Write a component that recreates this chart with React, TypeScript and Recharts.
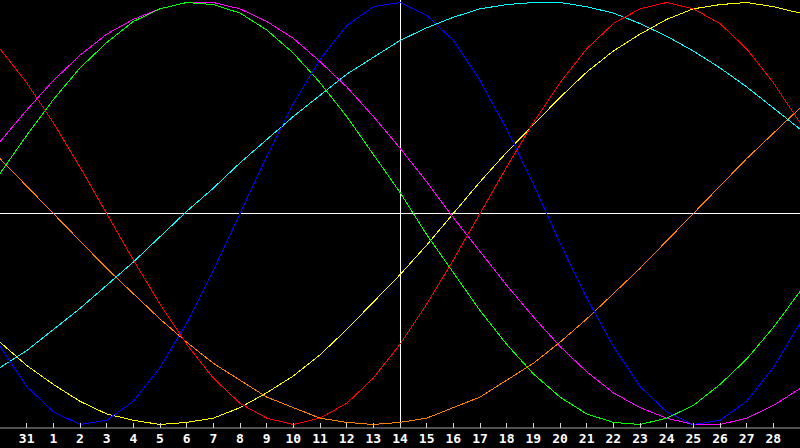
import React from "react";
import { LineChart, Line, XAxis, YAxis, ReferenceLine } from "recharts";

// Day labels for the 31 chart positions (index 0..30)
const dayLabels: string[] = [
  "30", "31", "1", "2", "3", "4", "5", "6", "7", "8", "9", "10", "11", "12", "13",
  "14", "15", "16", "17", "18", "19", "20", "21", "22", "23", "24", "25", "26", "27", "28", "29",
];

const tickIndexes: number[] = [
  1, 2, 3, 4, 5, 6, 7, 8, 9, 10, 11, 12, 13, 14, 15, 16, 17, 18, 19, 20, 21, 22, 23, 24, 25, 26, 27, 28, 29,
];

// Series values in percent
const redValues: number[] = [78, 62, 43, 22, 0, -22, -43, -62, -78, -90, -97, -100, -97, -90, -78, -62, -43, -22, 0, 22, 43, 62, 78, 90, 97, 100, 97, 90, 78, 62, 43];
const greenValues: number[] = [19, 37, 54, 69, 81, 91, 97, 100, 99, 95, 87, 76, 62, 46, 28, 10, -10, -28, -46, -62, -76, -87, -95, -99, -100, -97, -91, -81, -69, -54, -37];
const blueValues: number[] = [-63, -82, -94, -100, -98, -89, -73, -52, -27, 0, 27, 52, 73, 89, 98, 100, 94, 82, 63, 40, 14, -14, -40, -63, -82, -94, -100, -98, -89, -73, -52];
const magentaValues: number[] = [34, 49, 63, 75, 85, 92, 97, 100, 100, 97, 91, 83, 72, 60, 46, 31, 15, -2, -18, -34, -49, -63, -75, -85, -92, -97, -100, -100, -97, -91, -83];
const yellowValues: number[] = [-61, -72, -81, -89, -95, -98, -100, -99, -97, -92, -85, -77, -67, -55, -42, -29, -15, 0, 15, 29, 42, 55, 67, 77, 85, 92, 97, 99, 100, 98, 95];
const cyanValues: number[] = [-73, -65, -55, -45, -34, -23, -11, 1, 12, 24, 35, 46, 56, 66, 74, 82, 88, 93, 97, 99, 100, 100, 98, 95, 90, 84, 77, 69, 60, 50, 40];
const orangeValues: number[] = [26, 13, 0, -13, -26, -38, -50, -61, -71, -79, -87, -92, -97, -99, -100, -99, -97, -92, -87, -79, -71, -61, -50, -38, -26, -13, 0, 13, 26, 38, 50];

const todayIndex = 15;

const data = dayLabels.map((label, i) => ({
  t: i,
  label,
  red: redValues[i],
  green: greenValues[i],
  blue: blueValues[i],
  magenta: magentaValues[i],
  yellow: yellowValues[i],
  cyan: cyanValues[i],
  orange: orangeValues[i],
}));

const series = [
  { key: "orange", color: "#ff8000" },
  { key: "cyan", color: "#00ffff" },
  { key: "yellow", color: "#ffff00" },
  { key: "magenta", color: "#ff00ff" },
  { key: "green", color: "#00ff00" },
  { key: "red", color: "#ff0000" },
  { key: "blue", color: "#0000ff" },
];

const frameColor = "#a0a0a0";

const DayTick = (props: any) => {
  const { x, y, payload } = props;
  const label = dayLabels[payload.value];
  return (
    <g>
      <line x1={x} x2={x} y1={y - 5} y2={y} stroke="#d8d8d8" strokeWidth={1} shapeRendering="crispEdges" />
      <text
        x={x}
        y={y + 15}
        textAnchor="middle"
        fill="#ffffff"
        fontFamily="'DejaVu Sans Mono', monospace"
        fontWeight="bold"
        fontSize={13}
      >
        {label}
      </text>
    </g>
  );
};

export default function App() {
  return (
    <div style={{ position: "fixed", left: 0, top: 0, width: 800, height: 448, background: "#000000" }}>
      <LineChart width={800} height={448} data={data} margin={{ top: 0, right: 0, bottom: 0, left: 0 }}>
        <XAxis
          dataKey="t"
          type="number"
          domain={[0, 30]}
          ticks={tickIndexes}
          interval={0}
          height={20}
          tickSize={0}
          tickMargin={0}
          tickLine={false}
          axisLine={{ stroke: frameColor, strokeWidth: 1 }}
          tick={<DayTick />}
          allowDataOverflow
        />
        <XAxis
          xAxisId="top"
          dataKey="t"
          type="number"
          domain={[0, 30]}
          orientation="top"
          height={0}
          tick={false}
          tickLine={false}
          axisLine={{ stroke: frameColor, strokeWidth: 2 }}
        />
        <YAxis
          type="number"
          domain={[-101.66, 101.18]}
          width={0}
          tick={false}
          tickLine={false}
          axisLine={{ stroke: frameColor, strokeWidth: 2 }}
          allowDataOverflow
        />
        <ReferenceLine y={0} stroke="#ffffff" strokeWidth={1} shapeRendering="crispEdges" />
        <ReferenceLine x={todayIndex} stroke="#ffffff" strokeWidth={1} shapeRendering="crispEdges" />
        {series.map((s) => (
          <Line
            key={s.key}
            type="linear"
            dataKey={s.key}
            stroke={s.color}
            strokeWidth={1}
            dot={false}
            activeDot={false}
            isAnimationActive={false}
            shapeRendering="crispEdges"
          />
        ))}
      </LineChart>
    </div>
  );
}
